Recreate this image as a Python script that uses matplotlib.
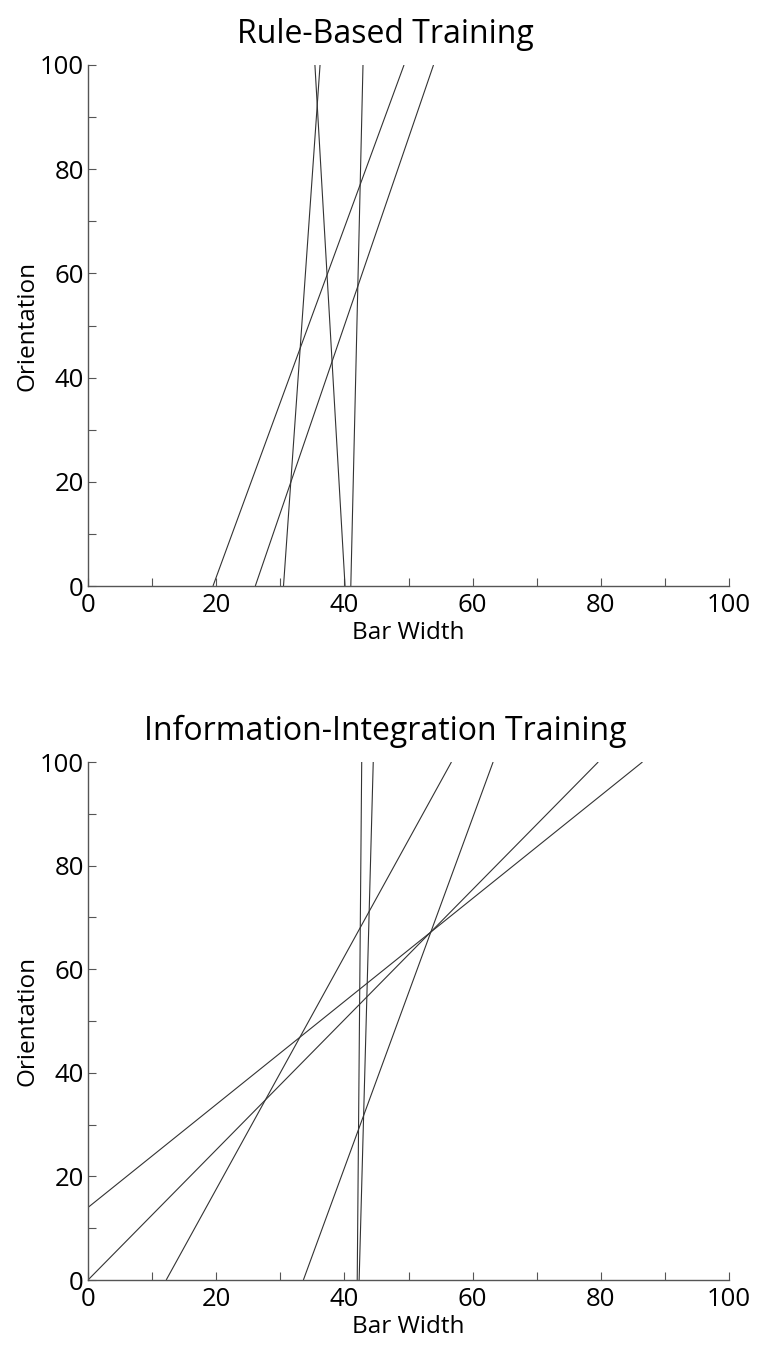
import matplotlib
matplotlib.use("Agg")
import matplotlib.pyplot as plt
from matplotlib.ticker import MultipleLocator

plt.rcParams['font.family'] = ['Open Sans', 'DejaVu Sans']

# Rule-Based Training boundaries: (x at start, y at start) -> (x at end, y at end)
rb_x_start = [19.5, 26.1, 30.5, 40.1, 41.0]
rb_y_start = [0, 0, 0, 0, 0]
rb_x_end = [49.3, 53.9, 36.2, 35.4, 42.9]
rb_y_end = [100, 100, 100, 100, 100]

# Information-Integration Training boundaries
ii_x_start = [0.0, 0.0, 12.2, 33.6, 42.0, 42.3]
ii_y_start = [14.0, 0, 0, 0, 0, 0]
ii_x_end = [86.5, 79.6, 56.7, 63.2, 42.7, 44.5]
ii_y_end = [100, 100, 100, 100, 100, 100]

titles = ["Rule-Based Training", "Information-Integration Training"]
xlabel = "Bar Width"
ylabel = "Orientation"
major_ticks = [0, 20, 40, 60, 80, 100]

fig = plt.figure(figsize=(7.61, 13.45), dpi=100)
W, H = 761, 1345
left, right = 88, 729
boxes = [(65, 586), (762, 1280)]
datasets = [(rb_x_start, rb_y_start, rb_x_end, rb_y_end),
            (ii_x_start, ii_y_start, ii_x_end, ii_y_end)]

for (top, bot), (xs, ys, xe, ye), title in zip(boxes, datasets, titles):
    ax = fig.add_axes([left / W, 1 - bot / H, (right - left) / W, (bot - top) / H])
    for a, b, c, d in zip(xs, ys, xe, ye):
        ax.plot([a, c], [b, d], color='#333333', lw=0.8, solid_capstyle='butt')
    ax.set_xlim(0, 100)
    ax.set_ylim(0, 100)
    ax.spines['top'].set_visible(False)
    ax.spines['right'].set_visible(False)
    for s in ('left', 'bottom'):
        ax.spines[s].set_color('#555555')
        ax.spines[s].set_linewidth(1.0)
    ax.set_xticks(major_ticks)
    ax.set_yticks(major_ticks)
    ax.xaxis.set_minor_locator(MultipleLocator(10))
    ax.yaxis.set_minor_locator(MultipleLocator(10))
    ax.tick_params(which='both', direction='in', length=6, width=0.8, color='#555555')
    ax.tick_params(axis='both', which='major', labelsize=18.5, pad=3)
    ax.tick_params(axis='x', pad=5)
    t = ax.set_title(title, fontsize=23, pad=16)
    t.set_x((385 - left) / (right - left))
    ax.set_xlabel(xlabel, fontsize=17.5, labelpad=2)
    ax.set_ylabel(ylabel, fontsize=17.5, labelpad=0)

fig.savefig("out.png", dpi=100)
